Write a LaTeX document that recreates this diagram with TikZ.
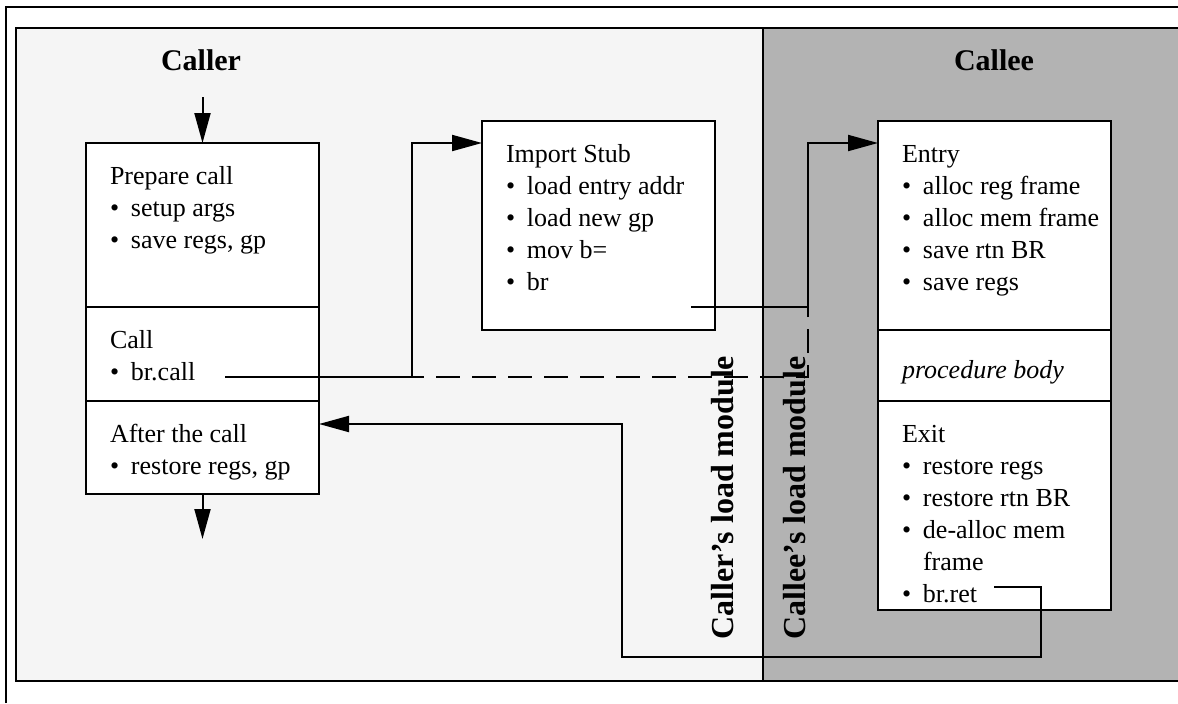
\documentclass[tikz,border=0pt]{standalone}
\usepackage{fontspec}
\setmainfont{Liberation Serif}
\usepackage{xcolor}
\usetikzlibrary{
    arrows.meta,
    positioning,
    calc
}
\definecolor{callerbg}{HTML}{F5F5F5}
\definecolor{calleebg}{HTML}{B3B3B3}
\newcommand{\bul}{\makebox[10.5pt][l]{\textbullet}}
\newcommand{\partbox}[3][20.5pt]{\parbox[c][#2][t]{116.5pt}{\raggedright\leftskip=12pt\rule{0pt}{#1}#3}}

\begin{document}
\begin{tikzpicture}[x=0.5pt, y=-0.5pt, >={Triangle[length=15pt,width=8pt]},
    part-box/.style={draw=black, line width=1pt, fill=white, inner sep=0pt, outer sep=0pt, font=\fontsize{13}{16}\selectfont},
    flow-line/.style={line width=1pt},
    frame-line/.style={line width=1.1pt},
    title-text/.style={font=\fontsize{15}{18}\selectfont\bfseries, anchor=base, inner sep=0pt},
    module-text/.style={font=\fontsize{16}{19}\selectfont\bfseries, rotate=90, anchor=base west, inner sep=0pt}]
    \useasboundingbox (0,0) rectangle (1178,703);
    \fill[callerbg] (16,28) rectangle (763,681);
    \fill[calleebg] (763,28) rectangle (1178,681);
    \draw[frame-line] (6,703) -- (6,7) -- (1178,7);
    \draw[frame-line] (1178,28) -- (16,28) -- (16,681) -- (1178,681);
    \draw[frame-line] (763,28) -- (763,681);

    \node [title-text] (caller) at (201,70) {Caller};
    \node [title-text] (callee) at (994,70) {Callee};
    \node [module-text] (callermod) at (733,640) {Caller’s load module};
    \node [module-text] (calleemod) at (805,640) {Callee’s load module};

    \node [part-box, anchor=north west] (prep) at (86,143) {\partbox{82pt}{Prepare call\\ \bul setup args\\ \bul save regs, gp}};
    \node [part-box, below=0pt of prep] (call) {\partbox{47pt}{Call\\ \bul br.call}};
    \node [part-box, below=0pt of call] (after) {\partbox{46.5pt}{After the call\\ \bul restore regs, gp}};
    \node [part-box, anchor=north west] (stub) at (482,121) {\partbox{104.5pt}{Import Stub\\ \bul load entry addr\\ \bul load new gp\\ \bul mov b=\\ \bul br}};
    \node [part-box, anchor=north west] (entry) at (878,121) {\partbox{104.5pt}{Entry\\ \bul alloc reg frame\\ \bul alloc mem frame\\ \bul save rtn BR\\ \bul save regs}};
    \node [part-box, below=0pt of entry] (body) {\partbox[24pt]{35.5pt}{\textit{procedure body}}};
    \node [part-box, below=0pt of body] (exit) {\partbox{104.5pt}{Exit\\ \bul restore regs\\ \bul restore rtn BR\\ \bul de-alloc mem\\ \hspace*{10.5pt}frame\\ \bul br.ret}};

    \coordinate (start) at ($(prep.north)+(0,-46)$);
    \coordinate (finish) at ($(after.south)+(0,45)$);
    \coordinate (callout) at (225,377);
    \coordinate (callturn) at (412,377);
    \coordinate (stubout) at (691,307);
    \coordinate (stubturn) at (808,307);
    \coordinate (dashturn) at (808,377);
    \coordinate (retout) at (994,587);
    \coordinate (retdown) at (1041,657);
    \coordinate (retup) at (622,657);

    \draw [flow-line, ->] (start) -- (prep.north);
    \draw [flow-line, ->] (after.south) -- (finish);
    \draw [flow-line, ->] (callout) -- (callturn) |- ([yshift=-11pt]stub.north west);
    \draw [flow-line, ->] (stubout) -- (stubturn) |- ([yshift=-11pt]entry.north west);
    \draw [flow-line, dash pattern=on 12pt off 6pt, dash phase=6pt] (callturn) -- (dashturn) -- (stubturn);
    \draw [flow-line, ->] (retout) -| (retdown) -- (retup) |- ([yshift=-11.5pt]after.north east);
\end{tikzpicture}
\end{document}
